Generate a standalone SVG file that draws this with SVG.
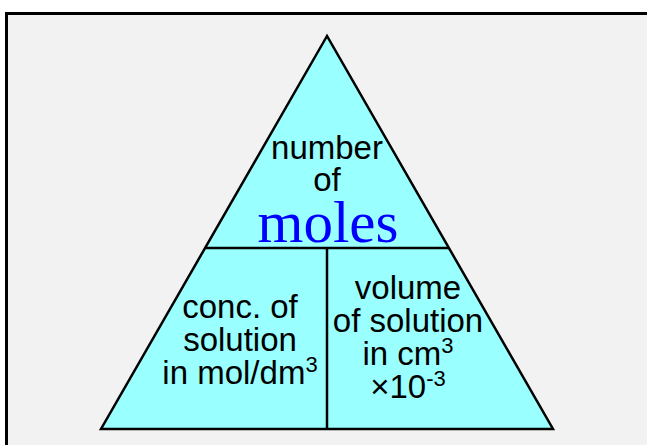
<svg xmlns="http://www.w3.org/2000/svg" width="647" height="445" viewBox="0 0 647 445">
<style>
.t{font-family:"Liberation Sans",Arial,sans-serif;font-size:33px;fill:#000;text-anchor:middle}
.sup{font-size:22px}
.m{font-family:"Liberation Serif","Times New Roman",serif;font-size:59px;fill:#0000ff;text-anchor:middle}
.ln{stroke:#000;stroke-width:2.5;fill:none}
</style>
<rect x="0" y="0" width="647" height="445" fill="#ffffff"/>
<rect x="6.5" y="13.5" width="660" height="460" fill="#f2f2f2" stroke="#000" stroke-width="3"/>
<g id="triangle">
<polygon points="327,36 101,429 553,429" fill="#99ffff" stroke="#000" stroke-width="2.5" stroke-linejoin="miter"/>
</g>
<g id="connectors">
<line class="ln" x1="205" y1="248" x2="449" y2="248"/>
<line class="ln" x1="327" y1="248" x2="327" y2="429"/>
</g>
<g id="moles">
<text class="t" x="327" y="159">number</text>
<text class="t" x="327" y="191">of</text>
<text class="m" x="328" y="242">moles</text>
</g>
<g id="concentration">
<text class="t" x="240" y="318">conc. of</text>
<text class="t" x="240" y="351">solution</text>
<text class="t" x="240" y="384">in mol/dm<tspan class="sup" dy="-12">3</tspan></text>
</g>
<g id="volume">
<text class="t" x="408" y="299">volume</text>
<text class="t" x="408" y="332">of solution</text>
<text class="t" x="408" y="365">in cm<tspan class="sup" dy="-12">3</tspan></text>
<text class="t" x="408" y="398">×10<tspan class="sup" dy="-12">-3</tspan></text>
</g>
</svg>
